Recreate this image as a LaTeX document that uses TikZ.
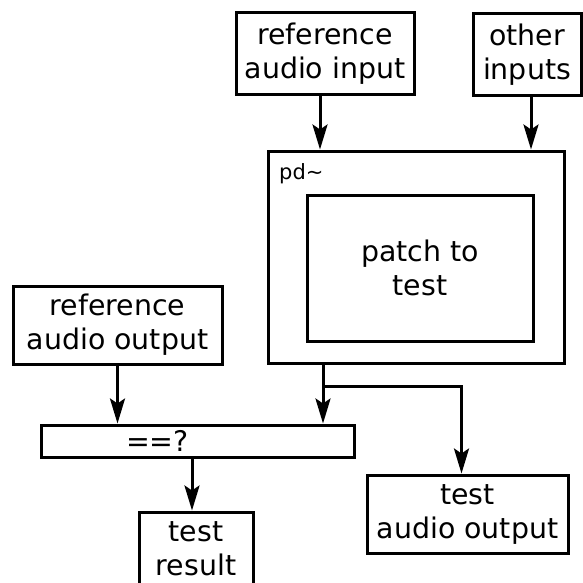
\documentclass[tikz,border=0pt]{standalone}
\usepackage{fontspec}
\setmainfont{DejaVu Sans}
\usetikzlibrary{arrows.meta,positioning,calc}

\begin{document}
\begin{tikzpicture}[x=1pt,y=-1pt,
  every node/.style={align=center,font=\fontsize{28.4}{34}\selectfont},
  box/.style={draw,line width=3pt,inner sep=0pt},
  small/.style={font=\fontsize{21}{25}\selectfont,inner sep=0pt},
  flow/.style={-{Stealth[length=25pt,width=15pt,inset=5pt]},line width=3pt}]

    \useasboundingbox (0,0) rectangle (583,583);
    \clip (0,0) rectangle (583,583);

    % inputs
    \node[box,minimum width=178pt,minimum height=82pt](refin) at (325,54) {reference\\audio input};
    \node[box,minimum width=108pt,minimum height=82pt](other) at (527,55) {other\\inputs};

    % pd~ around the patch
    \node[box,minimum width=296pt,minimum height=212pt](pd) at (416,257) {};
    \node[small,anchor=north west](pdname) at (279,163) {pd\textasciitilde};
    \node[box,minimum width=226pt,minimum height=146pt](patch) at (420,268) {patch to\\test};

    % comparison
    \node[box,minimum width=209pt,minimum height=78pt](refout) at (117.5,325) {reference\\audio output};
    \node[box,minimum width=313pt,minimum height=32pt,
          label={[xshift=-40pt]center:==?}](cmp) at (197.5,441) {};

    % outputs
    \node[box,minimum width=201pt,minimum height=78pt](tout) at (467.5,514) {test\\audio output};
    \node[box,minimum width=114pt,minimum height=74pt](result) at (196,549) {test\\result};

    \coordinate (split) at (323,386);

    \draw[flow]([xshift=-5pt]refin.south) -- ([xshift=-5pt]refin.south |- pd.north);
    \draw[flow]([xshift=4pt]other.south) -- ([xshift=4pt]other.south |- pd.north);
    \draw[flow](refout.south) -- (refout.south |- cmp.north);
    \draw[flow](pd.south -| split) -- (cmp.north -| split);
    \draw[flow](split) -| ([xshift=-6pt]tout.north);
    \draw[flow]([xshift=-4pt]result.north |- cmp.south) -- ([xshift=-4pt]result.north);
\end{tikzpicture}
\end{document}
